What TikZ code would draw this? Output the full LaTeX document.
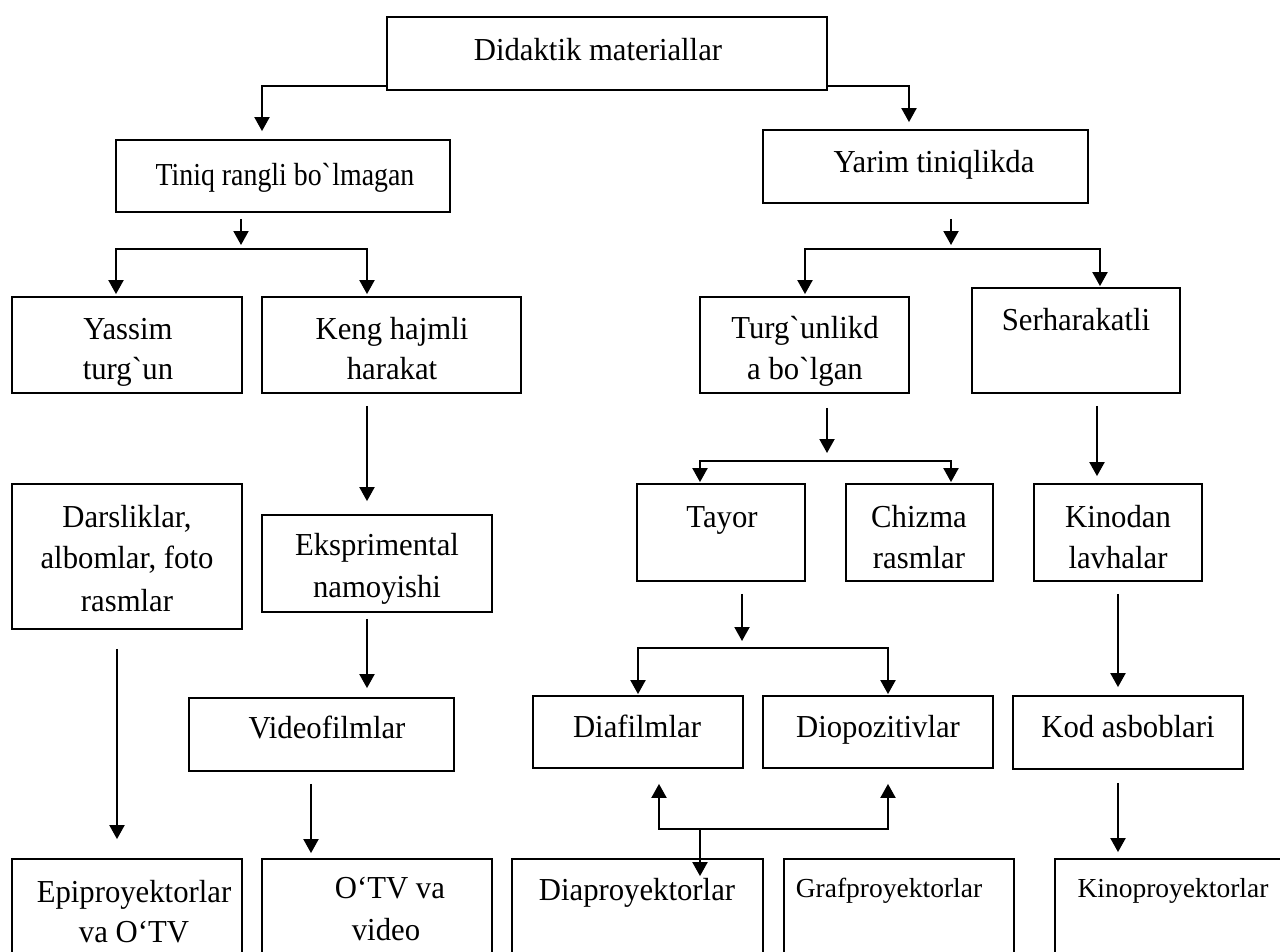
\documentclass[tikz,border=0pt]{standalone}
\usepackage{fontspec}
\setmainfont{Liberation Serif}
\newfontfamily\condserif{Liberation Serif}[FakeStretch=0.87]
\newfontfamily\wideserif{Liberation Serif}[FakeStretch=0.96]
\usetikzlibrary{arrows.meta}
\begin{document}
\begin{tikzpicture}[x=1pt,y=-1pt,
  bx/.style n args={2}{draw,line width=1.8pt,inner sep=0pt,minimum width=#1pt,minimum height=#2pt},
  arr/.style={line width=2pt,-{Triangle[length=14pt,width=15pt]}},
  tx/.style={anchor=base,inner sep=0pt,font=\wideserif\fontsize{32}{38}\selectfont},
  txs/.style={anchor=base,inner sep=0pt,font=\fontsize{27.5}{33}\selectfont},
  txc/.style={anchor=base,inner sep=0pt,font=\condserif\fontsize{32}{38}\selectfont}]
\clip (0,0) rectangle (1280,951);
% boxes
\node[bx={440}{73}] (did) at (607,53.5) {};
\node[bx={334}{72}] (tin) at (283,176) {};
\node[bx={325}{73}] (yar) at (925.5,166.5) {};
\node[bx={230}{96}] (yas) at (127,345) {};
\node[bx={259}{96}] (ken) at (391.5,345) {};
\node[bx={209}{96}] (tur) at (804.5,345) {};
\node[bx={208}{105}] (ser) at (1076,340.5) {};
\node[bx={230}{145}] (dar) at (127,556.5) {};
\node[bx={230}{97}] (eks) at (377,563.5) {};
\node[bx={168}{97}] (tay) at (721,532.5) {};
\node[bx={147}{97}] (chi) at (919.5,532.5) {};
\node[bx={168}{97}] (kin) at (1118,532.5) {};
\node[bx={265}{73}] (vid) at (321.5,734.5) {};
\node[bx={210}{72}] (dia) at (638,732) {};
\node[bx={230}{72}] (dio) at (878,732) {};
\node[bx={230}{73}] (kod) at (1128,732.5) {};
\node[bx={230}{141}] (epi) at (127,929.5) {};
\node[bx={230}{141}] (otv) at (377,929.5) {};
\node[bx={251}{141}] (dpr) at (637.5,929.5) {};
\node[bx={230}{141}] (gra) at (899,929.5) {};
\node[bx={245}{141}] (kpr) at (1177.5,929.5) {};
% texts
\node[tx] (t1) at (598,60) {Didaktik materiallar};
\node[txc] (t2) at (285,185) {Tiniq rangli bo\textasciigrave lmagan};
\node[tx] (t3) at (934,172) {Yarim tiniqlikda};
\node[tx] (t4a) at (128,339) {Yassim};
\node[tx] (t4b) at (128,379) {turg\textasciigrave un};
\node[tx] (t5a) at (392,339) {Keng hajmli};
\node[tx] (t5b) at (392,379) {harakat};
\node[tx] (t6a) at (805,338) {Turg\textasciigrave unlikd};
\node[tx] (t6b) at (805,379) {a bo\textasciigrave lgan};
\node[tx] (t7) at (1076,330) {Serharakatli};
\node[tx] (t8a) at (127,527) {Darsliklar,};
\node[tx] (t8b) at (127,568) {albomlar, foto};
\node[tx] (t8c) at (127,611) {rasmlar};
\node[tx] (t9a) at (377,555) {Eksprimental};
\node[tx] (t9b) at (377,597) {namoyishi};
\node[tx] (t10) at (722,527) {Tayor};
\node[tx] (t11a) at (919,527) {Chizma};
\node[tx] (t11b) at (919,568) {rasmlar};
\node[tx] (t12a) at (1118,527) {Kinodan};
\node[tx] (t12b) at (1118,568) {lavhalar};
\node[tx] (t13) at (327,738) {Videofilmlar};
\node[tx] (t14) at (637,737) {Diafilmlar};
\node[tx] (t15) at (878,737) {Diopozitivlar};
\node[tx] (t16) at (1128,737) {Kod asboblari};
\node[tx] (t17a) at (134,902) {Epiproyektorlar};
\node[tx] (t17b) at (134,942) {va O‘TV};
\node[tx] (t18a) at (390,898) {O‘TV va};
\node[tx] (t18b) at (386,940) {video};
\node[tx] (t19) at (637,900) {Diaproyektorlar};
\node[txs] (t20) at (889,897) {Grafproyektorlar};
\node[txs] (t21) at (1173,897) {Kinoproyektorlar};
% junctions
\coordinate (jl) at (241,249);
\coordinate (jr) at (951,249);
\coordinate (jt) at (827,461);
\coordinate (jd) at (742,648);
\coordinate (jp) at (700,829);
% connectors
\draw[arr,shorten >=8pt] ([yshift=5pt]did.south west) -| ([xshift=-21pt]tin.north);
\draw[arr,shorten >=7pt] ([yshift=5pt]did.south east) -| ([xshift=-16.5pt]yar.north);
\draw[arr] ([xshift=-42pt,yshift=-6pt]tin.south) -- ([yshift=4pt]jl);
\draw[arr,shorten >=2pt] (jl) -| ([xshift=-11pt]yas.north);
\draw[arr,shorten >=2pt] (jl) -| ([xshift=-24.5pt]ken.north);
\draw[arr] ([xshift=25.5pt,yshift=-15pt]yar.south) -- ([yshift=4pt]jr);
\draw[arr,shorten >=2pt] (jr) -| ([xshift=0.5pt]tur.north);
\draw[arr,shorten >=1pt] (jr) -| ([xshift=24pt]ser.north);
\draw[arr,shorten >=13pt] ([xshift=-24.5pt,yshift=-12pt]ken.south) -- ([xshift=-10pt]eks.north);
\draw[arr,shorten >=9pt] ([xshift=-10pt,yshift=-6pt]eks.south) -- ([xshift=45.5pt]vid.north);
\draw[arr,shorten >=5pt] ([xshift=-10.5pt,yshift=-12pt]vid.south) -- ([xshift=-66pt]otv.north);
\draw[arr,shorten >=19pt] ([xshift=-10pt,yshift=-19pt]dar.south) -- ([xshift=-10pt]epi.north);
\draw[arr] ([xshift=22.5pt,yshift=-14pt]tur.south) -- ([yshift=8pt]jt);
\draw[arr,shorten >=1pt] (jt) -| ([xshift=-21pt]tay.north);
\draw[arr,shorten >=1pt] (jt) -| ([xshift=31.5pt]chi.north);
\draw[arr,shorten >=7pt] ([xshift=21pt,yshift=-12pt]ser.south) -- ([xshift=-21pt]kin.north);
\draw[arr] ([xshift=21pt,yshift=-12pt]tay.south) -- ([yshift=7pt]jd);
\draw[arr,shorten >=1pt] (jd) -| (dia.north);
\draw[arr,shorten >=1pt] (jd) -| ([xshift=10pt]dio.north);
\draw[arr,shorten >=8pt] ([yshift=-12pt]kin.south) -- ([xshift=-10pt]kod.north);
\draw[arr,shorten >=6pt] ([xshift=-10pt,yshift=-13pt]kod.south) -- ([xshift=-59.5pt]kpr.north);
\draw[arr] (jp) -- ([xshift=62.5pt,yshift=-18pt]dpr.north);
\draw[arr] (jp) -| ([xshift=21pt,yshift=-15pt]dia.south);
\draw[arr] (jp) -| ([xshift=10pt,yshift=-15pt]dio.south);
\end{tikzpicture}
\end{document}
